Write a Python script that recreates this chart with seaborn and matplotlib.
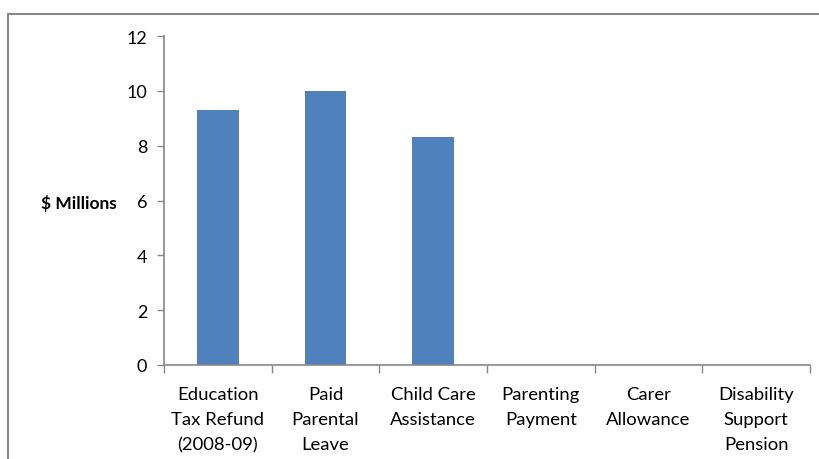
import matplotlib
matplotlib.use("Agg")
import matplotlib.pyplot as plt
from matplotlib.lines import Line2D
import seaborn as sns
import pandas as pd

categories = ["Education\nTax Refund\n(2008-09)", "Paid\nParental\nLeave",
              "Child Care\nAssistance", "Parenting\nPayment", "Carer\nAllowance",
              "Disability\nSupport\nPension"]
values = [9.3, 10.0, 8.3, 0, 0, 0]
yticks = [0, 2, 4, 6, 8, 10, 12]

sns.set_theme(style="white")
plt.rcParams['font.family'] = ['Lato', 'DejaVu Sans']

df = pd.DataFrame({"cat": categories, "val": values})

fig = plt.figure(figsize=(8.2, 4.6), dpi=100)
ax = fig.add_axes([164/820, 1-366/460, (810-164)/820, (366-37)/460])
sns.barplot(data=df, x="cat", y="val", color="#4F81BD", width=0.39,
            saturation=1, ax=ax, edgecolor="none")

ax.set_ylim(0, 12)
ax.set_xlim(-0.5, len(categories)-0.5)
ax.set_yticks(yticks)
ax.set_yticklabels([str(t) for t in yticks], fontsize=13, color="black")
ax.set_xticks(range(len(categories)))
ax.set_xticklabels(categories, fontsize=13.3, color="black", linespacing=1.7)
ax.tick_params(axis="x", length=0, pad=15)
ax.tick_params(axis="y", length=5, width=1, color="#888888", pad=7, left=True)
# category boundary ticks
ax.set_xticks([i - 0.5 for i in range(len(categories)+1)], minor=True)
ax.tick_params(axis="x", which="minor", length=6, width=1, color="#888888", bottom=True)

for s in ["top", "right"]:
    ax.spines[s].set_visible(False)
for s in ["left", "bottom"]:
    ax.spines[s].set_color("#888888")
    ax.spines[s].set_linewidth(1.2)

ax.set_xlabel("")
ax.set_ylabel("$ Millions", rotation=0, fontsize=12.5, fontweight="bold",
              color="black", labelpad=0, ha="right", va="center")
ax.yaxis.set_label_coords((117-164)/646, 0.495)

# outer chart frame (partially visible)
fig.add_artist(Line2D([8/820, 1.0], [1-15/460, 1-15/460], transform=fig.transFigure,
                      color="#888888", linewidth=1.5))
fig.add_artist(Line2D([8/820, 8/820], [0, 1-15/460], transform=fig.transFigure,
                      color="#888888", linewidth=1.5))

fig.savefig("out.png", dpi=100, facecolor="white")
